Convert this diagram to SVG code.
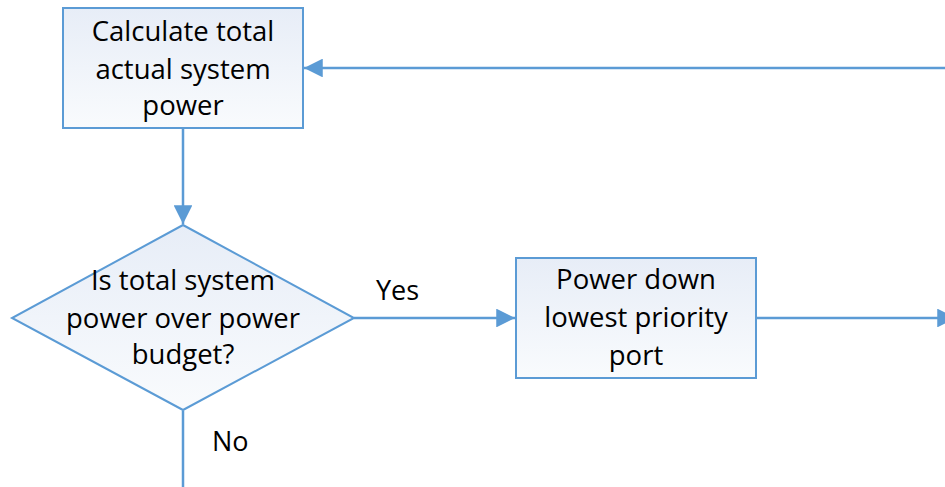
<svg xmlns="http://www.w3.org/2000/svg" width="945" height="487" viewBox="0 0 945 487">
<style>
.box{stroke:#5b9bd5;stroke-width:2;fill:url(#g)}
.ln{stroke:#5b9bd5;stroke-width:2.5;fill:none}
.t{font-family:"Open Sans","Liberation Sans",sans-serif;font-size:27.5px;fill:#000;text-anchor:middle}
.l{font-family:"Open Sans","Liberation Sans",sans-serif;font-size:27px;fill:#000}
</style>
<defs>
<linearGradient id="g" x1="0" y1="0" x2="0" y2="1">
<stop offset="0" stop-color="#e7edf7"/>
<stop offset="1" stop-color="#f9fbfd"/>
</linearGradient>
<marker id="a" viewBox="0 0 10 10" refX="10" refY="5" markerWidth="7.5" markerHeight="7.5" markerUnits="strokeWidth" orient="auto">
<path d="M0,0 L10,5 L0,10 Z" fill="#5b9bd5"/>
</marker>
</defs>
<g id="connectors">
<line class="ln" x1="183" y1="129" x2="183" y2="224" marker-end="url(#a)"/>
<line class="ln" x1="354" y1="318" x2="515" y2="318" marker-end="url(#a)"/>
<line class="ln" x1="757" y1="318" x2="956" y2="318" marker-end="url(#a)"/>
<line class="ln" x1="945" y1="68" x2="304" y2="68" marker-end="url(#a)"/>
<line class="ln" x1="183" y1="411" x2="183" y2="487"/>
<text class="l" x="376" y="300">Yes</text>
<text class="l" x="212" y="451">No</text>
</g>
<g id="calc">
<rect class="box" x="63" y="8" width="240" height="120"/>
<text class="t" x="183" y="41">Calculate total</text>
<text class="t" x="183" y="79">actual system</text>
<text class="t" x="183" y="115">power</text>
</g>
<g id="decision">
<polygon class="box" points="183,225 354,318 183,410 12,318"/>
<text class="t" x="183" y="290">Is total system</text>
<text class="t" x="183" y="328">power over power</text>
<text class="t" x="183" y="364">budget?</text>
</g>
<g id="powerdown">
<rect class="box" x="516" y="258" width="240" height="120"/>
<text class="t" x="636" y="289">Power down</text>
<text class="t" x="636" y="327">lowest priority</text>
<text class="t" x="636" y="365">port</text>
</g>
</svg>
